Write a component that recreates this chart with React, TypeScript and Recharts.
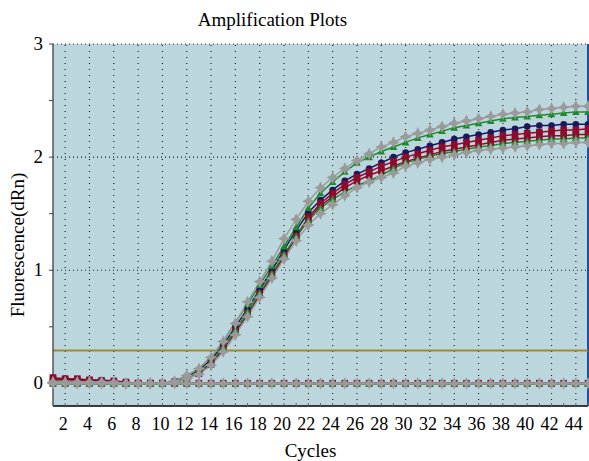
import React from 'react';
import { LineChart, Line, XAxis, YAxis, ReferenceLine } from 'recharts';

const cycles = [
  1, 2, 3, 4, 5, 6, 7, 8, 9, 10, 11, 12, 13, 14, 15, 16, 17, 18, 19, 20, 21, 22, 23,
  24, 25, 26, 27, 28, 29, 30, 31, 32, 33, 34, 35, 36, 37, 38, 39, 40, 41, 42, 43, 44, 45,
];
const xLabels = [2, 4, 6, 8, 10, 12, 14, 16, 18, 20, 22, 24, 26, 28, 30, 32, 34, 36, 38, 40, 42, 44];
const yTicks = [0, 0.5, 1, 1.5, 2, 2.5, 3];
const yLabels = [0, 1, 2, 3];
const threshold = 0.29;

// amplifying wells
const grayHigh = [
  0.01, 0.01, 0.01, 0.01, 0.01, 0.01, 0, 0, 0, 0, 0.02, 0.07, 0.13, 0.23, 0.37, 0.53, 0.72, 0.9,
  1.08, 1.28, 1.45, 1.61, 1.73, 1.82, 1.9, 1.97, 2.03, 2.09, 2.13, 2.18, 2.21, 2.24, 2.27, 2.3,
  2.32, 2.34, 2.36, 2.38, 2.39, 2.4, 2.42, 2.43, 2.44, 2.45, 2.45,
];
const greenHigh = [
  0.02, 0.02, 0.01, 0.01, 0.01, 0.01, 0, 0, 0, 0, 0.02, 0.07, 0.13, 0.23, 0.37, 0.54, 0.7, 0.87,
  1.04, 1.21, 1.38, 1.55, 1.68, 1.78, 1.87, 1.95, 2.0, 2.05, 2.09, 2.13, 2.17, 2.2, 2.23, 2.26,
  2.28, 2.3, 2.32, 2.34, 2.35, 2.36, 2.37, 2.38, 2.39, 2.4, 2.4,
];
const navy = [
  0.03, 0.04, 0.03, 0.03, 0.03, 0.02, 0.01, 0, 0, 0, 0.02, 0.06, 0.12, 0.21, 0.34, 0.5, 0.66,
  0.83, 1.0, 1.18, 1.35, 1.51, 1.62, 1.71, 1.79, 1.85, 1.9, 1.95, 2.0, 2.04, 2.07, 2.1, 2.13,
  2.16, 2.18, 2.2, 2.22, 2.24, 2.25, 2.27, 2.28, 2.28, 2.29, 2.29, 2.29,
];
const redHigh = [
  0.05, 0.04, 0.04, 0.03, 0.02, 0.02, 0.01, 0, 0, 0, 0.01, 0.04, 0.09, 0.18, 0.31, 0.46, 0.62,
  0.79, 0.96, 1.13, 1.3, 1.47, 1.59, 1.68, 1.76, 1.82, 1.87, 1.92, 1.96, 2.0, 2.03, 2.06, 2.09,
  2.11, 2.13, 2.15, 2.17, 2.19, 2.2, 2.21, 2.22, 2.23, 2.24, 2.24, 2.25,
];
const redLow = [
  0.04, 0.03, 0.03, 0.02, 0.02, 0.01, 0, 0, 0, 0, 0.01, 0.04, 0.09, 0.17, 0.3, 0.45, 0.61, 0.78,
  0.95, 1.12, 1.29, 1.45, 1.57, 1.65, 1.73, 1.79, 1.84, 1.88, 1.92, 1.96, 1.99, 2.02, 2.05,
  2.07, 2.09, 2.11, 2.13, 2.15, 2.16, 2.17, 2.18, 2.19, 2.19, 2.2, 2.2,
];
const greenLow = [
  0.02, 0.01, 0.01, 0.01, 0.01, 0, 0, 0, 0, 0, 0.01, 0.05, 0.1, 0.19, 0.32, 0.47, 0.63, 0.8,
  0.97, 1.14, 1.3, 1.44, 1.55, 1.63, 1.69, 1.75, 1.79, 1.84, 1.9, 1.95, 1.98, 2.01, 2.03, 2.05,
  2.07, 2.09, 2.1, 2.12, 2.13, 2.14, 2.15, 2.16, 2.16, 2.17, 2.17,
];
const grayLow = [
  0.01, 0.01, 0.01, 0.01, 0.01, 0, 0, 0, 0, 0, 0.01, 0.04, 0.08, 0.16, 0.28, 0.43, 0.59, 0.76,
  0.93, 1.1, 1.26, 1.4, 1.5, 1.58, 1.66, 1.73, 1.78, 1.82, 1.86, 1.92, 1.95, 1.98, 2.0, 2.02,
  2.04, 2.06, 2.07, 2.08, 2.09, 2.1, 2.11, 2.12, 2.12, 2.13, 2.13,
];
// no-template controls, flat at baseline
const ntc = [
  0, 0, 0, 0, 0, 0, 0, 0, 0, 0, 0, 0, 0, 0, 0, 0, 0, 0, 0, 0, 0, 0, 0, 0, 0, 0, 0, 0, 0, 0, 0, 0,
  0, 0, 0, 0, 0, 0, 0, 0, 0, 0, 0, 0, 0,
];

const NAVY = '#1d175f';
const RED = '#8e0b2c';
const GREEN = '#1f8a2c';
const GRAY = '#9a9a9a';
const FONT = '"Liberation Serif", "Times New Roman", serif';

const data = cycles.map((c, i) => ({
  cycle: c,
  grayHigh: grayHigh[i],
  greenHigh: greenHigh[i],
  navy: navy[i],
  redHigh: redHigh[i],
  redLow: redLow[i],
  greenLow: greenLow[i],
  grayLow: grayLow[i],
  ntc: ntc[i],
}));

type Shape = 'circle' | 'square' | 'triangle' | 'diamond';

const makeDot = (shape: Shape, color: string) => (p: any) => {
  const { cx, cy, index } = p;
  if (cx == null || cy == null) return <g key={index} />;
  if (shape === 'circle') return <circle key={index} cx={cx} cy={cy} r={3.3} fill={color} />;
  if (shape === 'square')
    return <rect key={index} x={cx - 3.3} y={cy - 3.5} width={6.6} height={7} fill={color} />;
  if (shape === 'triangle')
    return (
      <polygon
        key={index}
        points={`${cx},${cy - 4} ${cx + 3.8},${cy + 3} ${cx - 3.8},${cy + 3}`}
        fill={color}
      />
    );
  return (
    <polygon
      key={index}
      points={`${cx},${cy - 4.5} ${cx + 1.5},${cy - 1.5} ${cx + 4.5},${cy} ${cx + 1.5},${cy + 1.5} ${cx},${cy + 4.5} ${cx - 1.5},${cy + 1.5} ${cx - 4.5},${cy} ${cx - 1.5},${cy - 1.5}`}
      fill={color}
      stroke={color}
      strokeWidth={1.5}
    />
  );
};

const XTick = (p: any) => {
  const { x, y, payload } = p;
  const v = payload.value;
  return (
    <g>
      <line x1={x} x2={x} y1={y} y2={y - 3} stroke="#666" />
      {xLabels.includes(v) && (
        <text x={x - 2} y={y + 24} textAnchor="middle" fontSize={18} fontFamily={FONT} fill="#000">
          {v}
        </text>
      )}
    </g>
  );
};

const YTick = (p: any) => {
  const { x, y, payload } = p;
  const v = payload.value;
  if (!yLabels.includes(v)) return <g />;
  return (
    <text x={x} y={y + 6} textAnchor="end" fontSize={19} fontFamily={FONT} fill="#000">
      {v}
    </text>
  );
};

const series: { key: string; color: string; shape: Shape }[] = [
  { key: 'ntc', color: NAVY, shape: 'circle' },
  { key: 'ntc', color: RED, shape: 'square' },
  { key: 'ntc', color: GREEN, shape: 'triangle' },
  { key: 'navy', color: NAVY, shape: 'circle' },
  { key: 'redHigh', color: RED, shape: 'square' },
  { key: 'redLow', color: RED, shape: 'square' },
  { key: 'greenLow', color: GREEN, shape: 'triangle' },
  { key: 'greenHigh', color: GREEN, shape: 'triangle' },
  { key: 'grayLow', color: GRAY, shape: 'diamond' },
  { key: 'grayHigh', color: GRAY, shape: 'diamond' },
  { key: 'ntc', color: GRAY, shape: 'diamond' },
];

export default function App() {
  return (
    <div style={{ position: 'absolute', left: 0, top: 0, width: 589, height: 461, background: '#fff' }}>
      <div
        style={{
          position: 'absolute',
          left: 0,
          width: 545,
          top: 6,
          textAlign: 'center',
          fontFamily: FONT,
          fontSize: 19,
          lineHeight: '28px',
        }}
      >
        Amplification Plots
      </div>
      <div
        style={{
          position: 'absolute',
          left: 18,
          top: 245,
          transform: 'translate(-50%, -50%) rotate(-90deg)',
          whiteSpace: 'nowrap',
          fontFamily: FONT,
          fontSize: 19,
        }}
      >
        Fluorescence(dRn)
      </div>
      <LineChart
        width={589}
        height={461}
        data={data}
        margin={{ top: 44, right: 1, bottom: 0, left: 0 }}
        style={{ position: 'absolute', left: 0, top: 0 }}
      >
        <rect x={53} y={44} width={535} height={362} fill="#bcd6dd" />
        <XAxis
          dataKey="cycle"
          type="number"
          domain={[1, 45]}
          ticks={cycles}
          interval={0}
          height={55}
          tickLine={false}
          tickSize={0}
          tickMargin={0}
          tick={<XTick />}
          axisLine={{ stroke: '#000', strokeWidth: 1.5 }}
          label={{ value: 'Cycles', position: 'insideBottom', offset: 4, dx: -10, fontSize: 19, fontFamily: FONT, fill: '#000' }}
        />
        <YAxis
          type="number"
          domain={[-0.2, 3]}
          ticks={yTicks}
          interval={0}
          allowDataOverflow
          width={53}
          tickSize={4}
          tickMargin={6}
          tickLine={{ stroke: '#444' }}
          tick={<YTick />}
          axisLine={{ stroke: '#555', strokeWidth: 1.5 }}
        />
        {xLabels.map((c) => (
          <ReferenceLine key={'gx' + c} x={c} stroke="#222" strokeDasharray="1 5" strokeWidth={1.2} />
        ))}
        {yLabels.map((v) => (
          <ReferenceLine key={'gy' + v} y={v} stroke="#222" strokeDasharray="1 3" strokeWidth={1.2} />
        ))}
        <ReferenceLine x={45} stroke="#1f4f9e" strokeWidth={2} />
        <ReferenceLine y={threshold} stroke="#9e8c2c" strokeWidth={2} />
        {series.map((s, i) => (
          <Line
            key={i}
            dataKey={s.key}
            stroke={s.color}
            strokeWidth={1.5}
            dot={makeDot(s.shape, s.color)}
            activeDot={false}
            isAnimationActive={false}
          />
        ))}
      </LineChart>
    </div>
  );
}
